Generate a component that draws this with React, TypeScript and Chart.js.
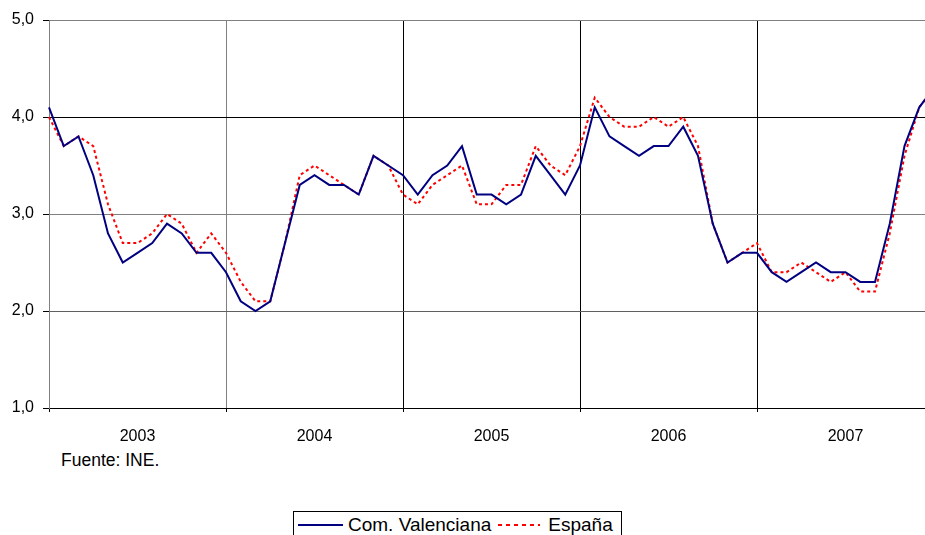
import React, { useEffect, useRef } from "react";
import { Chart, registerables } from "chart.js";

Chart.register(...registerables);

// Years shown on the x axis (each spans 12 monthly points)
const years = ["2003", "2004", "2005", "2006", "2007"];
const monthsPerYear = 12;

// Monthly values, Jan 2003 .. Jan 2008
const comValenciana = [
  4.1, 3.7, 3.8, 3.4, 2.8, 2.5, 2.6, 2.7, 2.9, 2.8, 2.6, 2.6,
  2.4, 2.1, 2.0, 2.1, 2.7, 3.3, 3.4, 3.3, 3.3, 3.2, 3.6, 3.5,
  3.4, 3.2, 3.4, 3.5, 3.7, 3.2, 3.2, 3.1, 3.2, 3.6, 3.4, 3.2,
  3.5, 4.1, 3.8, 3.7, 3.6, 3.7, 3.7, 3.9, 3.6, 2.9, 2.5, 2.6,
  2.6, 2.4, 2.3, 2.4, 2.5, 2.4, 2.4, 2.3, 2.3, 2.9, 3.7, 4.1,
  4.3,
];

const espana = [
  4.0, 3.7, 3.8, 3.7, 3.1, 2.7, 2.7, 2.8, 3.0, 2.9, 2.6, 2.8,
  2.6, 2.3, 2.1, 2.1, 2.7, 3.4, 3.5, 3.4, 3.3, 3.2, 3.6, 3.5,
  3.2, 3.1, 3.3, 3.4, 3.5, 3.1, 3.1, 3.3, 3.3, 3.7, 3.5, 3.4,
  3.7, 4.2, 4.0, 3.9, 3.9, 4.0, 3.9, 4.0, 3.7, 2.9, 2.5, 2.6,
  2.7, 2.4, 2.4, 2.5, 2.4, 2.3, 2.4, 2.2, 2.2, 2.8, 3.6, 4.1,
  4.3,
];

const yTicks = [1, 2, 3, 4, 5];
const yGridColors = ["#000000", "#606060", "#808080", "#000000", "#808080"];
const xGridColors = ["#808080", "#808080", "#000000", "#000000", "#000000", "#000000"];

const FONT = "'Liberation Sans', Arial, Helvetica, sans-serif";
const X_TICK_PADDING = 15;

export default function App() {
  const ref = useRef<HTMLCanvasElement>(null);

  useEffect(() => {
    const labels = comValenciana.map((_, i) => {
      const y = Math.floor(i / monthsPerYear);
      return `${years[y] ?? "2008"}-${(i % monthsPerYear) + 1}`;
    });
    const chart = new Chart(ref.current as HTMLCanvasElement, {
      type: "line",
      data: {
        labels,
        datasets: [
          {
            label: "Com. Valenciana",
            data: comValenciana,
            borderColor: "#000080",
            borderWidth: 2,
            pointRadius: 0,
            tension: 0,
            fill: false,
          },
          {
            label: "España",
            data: espana,
            borderColor: "#ff0000",
            borderWidth: 2,
            borderDash: [3, 3],
            pointRadius: 0,
            tension: 0,
            fill: false,
          },
        ],
      },
      options: {
        animation: false,
        responsive: false,
        devicePixelRatio: 1,
        layout: { padding: { left: 0, right: 0, top: 20, bottom: 0 } },
        plugins: { legend: { display: false }, tooltip: { enabled: false } },
        scales: {
          x: {
            offset: false,
            grid: {
              color: (ctx: any) =>
                ctx.index % monthsPerYear === 0 ? xGridColors[ctx.index / monthsPerYear] : "rgba(0,0,0,0)",
              lineWidth: 1,
              drawTicks: true,
              tickLength: 4,
              tickColor: (ctx: any) => (ctx.index % monthsPerYear === 0 ? "#000" : "rgba(0,0,0,0)"),
            },
            border: { color: "#000", width: 1 },
            ticks: {
              autoSkip: false,
              maxRotation: 0,
              minRotation: 0,
              padding: X_TICK_PADDING,
              color: "#000",
              font: { family: FONT, size: 16 },
              callback: (_v: any, i: number) =>
                i % monthsPerYear === 6 ? years[Math.floor(i / monthsPerYear)] : "",
            },
            afterFit: (s: any) => {
              s.height = 42;
            },
          },
          y: {
            min: 1,
            max: 5,
            afterBuildTicks: (s: any) => {
              s.ticks = yTicks.map((v) => ({ value: v }));
            },
            grid: {
              color: (ctx: any) => yGridColors[ctx.index] ?? "#808080",
              lineWidth: 1,
              tickLength: 6,
              tickColor: "#000",
            },
            border: { color: "#808080", width: 1 },
            ticks: {
              padding: 9,
              color: "#000",
              font: { family: FONT, size: 16 },
              callback: (v: any) => Number(v).toFixed(1).replace(".", ","),
            },
            afterFit: (s: any) => {
              s.width = 49;
            },
          },
        },
      },
    });
    return () => chart.destroy();
  }, []);

  return (
    <div
      style={{
        position: "fixed",
        left: 0,
        top: 0,
        width: 925,
        height: 535,
        overflow: "hidden",
        background: "#fff",
        fontFamily: FONT,
        color: "#000",
      }}
    >
      <canvas
        ref={ref}
        width={934 + X_TICK_PADDING}
        height={450}
        style={{ position: "absolute", left: 0, top: 0, width: 934 + X_TICK_PADDING, height: 450 }}
      />
      <div style={{ position: "absolute", left: 61, top: 450, fontSize: 17.5, lineHeight: "20px" }}>
        Fuente: INE.
      </div>
      <div
        style={{
          position: "absolute",
          left: 293,
          top: 511,
          width: 329,
          height: 28,
          boxSizing: "border-box",
          border: "1px solid #000",
          background: "#fff",
          display: "flex",
          alignItems: "center",
          fontSize: 19,
          whiteSpace: "nowrap",
        }}
      >
        <span style={{ display: "inline-block", width: 45, height: 2, background: "#000080", marginLeft: 4 }} />
        <span style={{ marginLeft: 5 }}>Com. Valenciana</span>
        <span
          style={{
            display: "inline-block",
            width: 42,
            height: 2,
            marginLeft: 7,
            background: "repeating-linear-gradient(to right, #ff0000 0 4px, rgba(0,0,0,0) 4px 8px)",
          }}
        />
        <span style={{ marginLeft: 8 }}>España</span>
      </div>
    </div>
  );
}
